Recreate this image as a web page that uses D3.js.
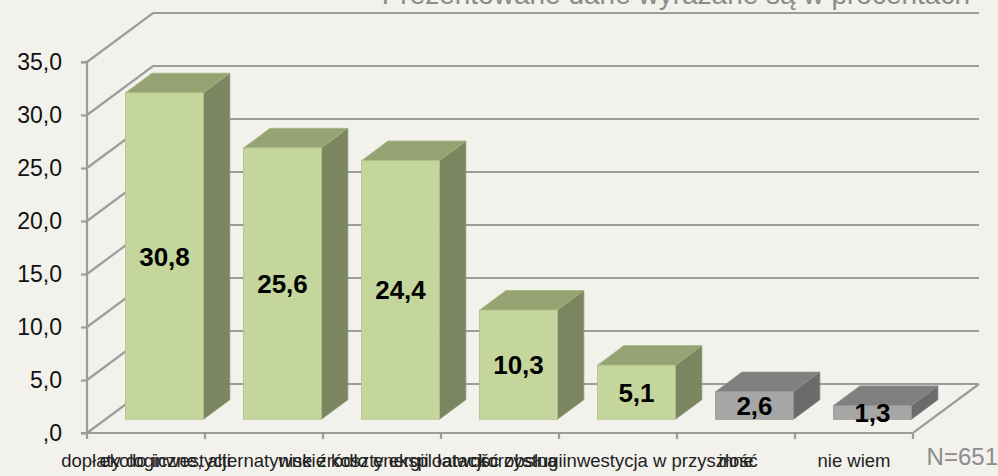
<!DOCTYPE html>
<html>
<head>
<meta charset="utf-8">
<script src="https://cdn.jsdelivr.net/npm/d3@7"></script>
<style>
html,body{margin:0;padding:0;background:#f3f1ec;}
svg{display:block;font-family:"Liberation Sans",Arial,sans-serif;}
</style>
</head>
<body>
<svg id="chart" width="998" height="476"></svg>
<script>
const categories = [
  "dopłaty do inwestycji",
  "ekologiczne, alternatywne źródło energii",
  "niskie koszty eksploatacji",
  "łatwość obsługi",
  "korzystna inwestycja w przyszłość",
  "inne",
  "nie wiem"
];
const values = [30.8, 25.6, 24.4, 10.3, 5.1, 2.6, 1.3];
const highlight = [true, true, true, true, true, false, false];
const yTicks = [0, 5, 10, 15, 20, 25, 30, 35];
const titleText = "Prezentowane dane wyrażane są w procentach";
const noteText = "N=651";

const svg = d3.select("#chart");
const W = 998, H = 476;
svg.append("rect").attr("width", W).attr("height", H).attr("fill", "#f3f1ec");

const x0 = 87, x1 = 913;
const x = d3.scaleBand().domain(categories).range([x0, x1]).paddingInner(0.34).paddingOuter(0.17);
const y = d3.scaleLinear().domain([0, 35]).range([433, 62]);
// depth projection
const DX = 66, DY = -49;
const f0 = 0.28, f1 = 0.68;

const grid = "#9c9c9c";
const g = svg.append("g");

// back wall gridlines + left wall diagonals
yTicks.forEach(t => {
  g.append("path")
    .attr("d", `M${x0},${y(t)} L${x0 + DX},${y(t) + DY} L${x1 + DX},${y(t) + DY}`)
    .attr("fill", "none").attr("stroke", grid).attr("stroke-width", 2.2);
});
// floor
g.append("path")
  .attr("d", `M${x0},${y(0)} L${x1},${y(0)} L${x1 + DX},${y(0) + DY}`)
  .attr("fill", "none").attr("stroke", grid).attr("stroke-width", 2.2);

// left axis
const yAxis = d3.axisLeft(y).tickValues(yTicks).tickSize(6).tickPadding(19)
  .tickFormat(d => d === 0 ? ",0" : d3.format(".1f")(d).replace(".", ","));
const ya = svg.append("g").attr("transform", `translate(${x0},0)`).call(yAxis);
ya.select(".domain").attr("stroke", grid).attr("stroke-width", 2.2).attr("d", `M-6,${y(35)}H0V${y(0)}H-6`);
ya.selectAll(".tick line").attr("stroke", grid).attr("stroke-width", 2.2);
ya.selectAll(".tick text").attr("fill", "#111").style("font-size", "23px")
  .style("font-family", "'Liberation Sans',Arial,sans-serif");

// bottom axis
const xAxis = d3.axisBottom(x).tickSize(0).tickPadding(21);
const xa = svg.append("g").attr("transform", `translate(0,${y(0)})`).call(xAxis);
xa.select(".domain").remove();
xa.selectAll(".tick text").attr("fill", "#222").style("font-size", "18.5px")
  .style("font-family", "'Liberation Sans',Arial,sans-serif");
// category boundary ticks
const step = x.step();
d3.range(categories.length + 1).forEach(i => {
  const xx = x0 + i * step;
  svg.append("line").attr("x1", xx).attr("x2", xx).attr("y1", y(0)).attr("y2", y(0) + 6)
    .attr("stroke", grid).attr("stroke-width", 2.2);
});

// bars
const bw = x.bandwidth();
const bars = svg.append("g");
categories.forEach((c, i) => {
  const v = values[i];
  const green = highlight[i];
  const cFront = green ? "#c4d69b" : "#a6a6a6";
  const cTop = green ? "#95a372" : "#808080";
  const cSide = green ? "#7b8560" : "#6b6b6b";
  const bx = x(c) + DX * f0;
  const by0 = y(0) + DY * f0;
  const byT = y(v) + DY * f0;
  const ddx = DX * (f1 - f0), ddy = DY * (f1 - f0);
  const gb = bars.append("g");
  // side
  gb.append("path")
    .attr("d", `M${bx + bw},${by0} L${bx + bw + ddx},${by0 + ddy} L${bx + bw + ddx},${byT + ddy} L${bx + bw},${byT} Z`)
    .attr("fill", cSide).attr("stroke", d3.color(cSide).brighter(0.3)).attr("stroke-width", 0.8);
  // top
  gb.append("path")
    .attr("d", `M${bx},${byT} L${bx + ddx},${byT + ddy} L${bx + bw + ddx},${byT + ddy} L${bx + bw},${byT} Z`)
    .attr("fill", cTop).attr("stroke", d3.color(cTop).brighter(0.3)).attr("stroke-width", 0.8);
  // front
  gb.append("rect")
    .attr("x", bx).attr("y", byT).attr("width", bw).attr("height", by0 - byT)
    .attr("fill", cFront).attr("stroke", d3.color(cFront).darker(0.3)).attr("stroke-width", 0.8);
  // value label
  gb.append("text")
    .attr("x", bx + bw / 2).attr("y", (byT + by0) / 2 + 9.5)
    .attr("text-anchor", "middle").attr("font-weight", "bold").attr("font-size", 26)
    .attr("fill", "#000")
    .text(d3.format(".1f")(v).replace(".", ","));
});

// title (partially clipped at top)
svg.append("text").attr("x", 970).attr("y", 4).attr("text-anchor", "end")
  .attr("font-size", 28).attr("fill", "#8a8a8a").text(titleText);
// note
svg.append("text").attr("x", 998).attr("y", 465).attr("text-anchor", "end")
  .attr("font-size", 24).attr("fill", "#8c8c8c").text(noteText);
</script>
</body>
</html>
